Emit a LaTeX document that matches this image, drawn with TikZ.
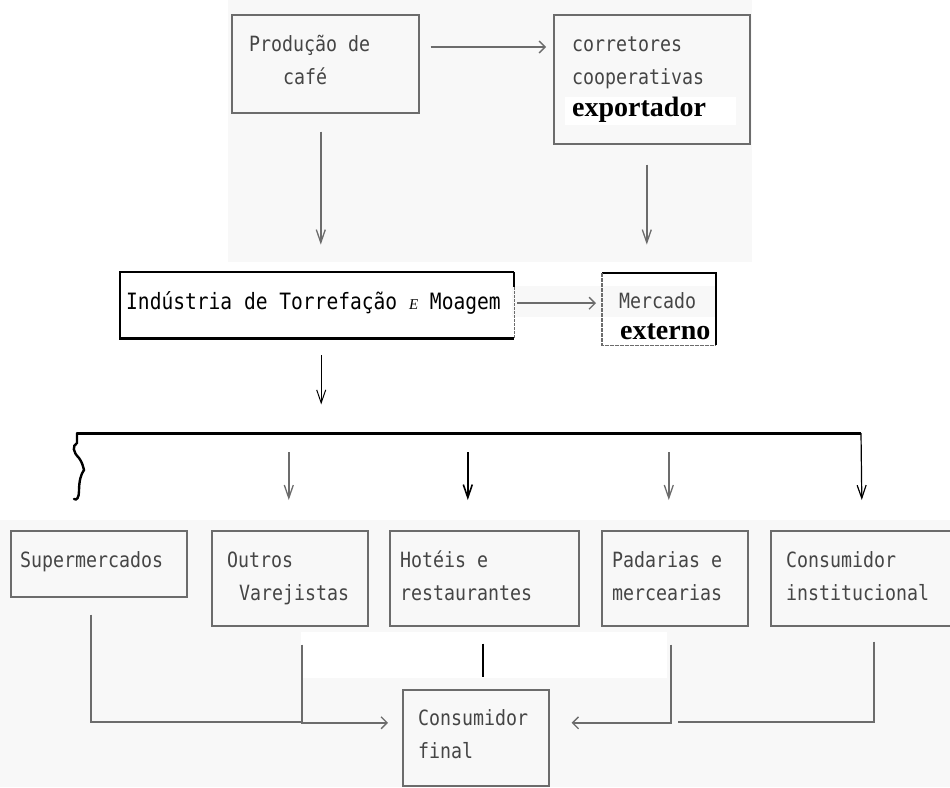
\documentclass[tikz,border=0pt]{standalone}
\usepackage{fontspec}
\setmainfont{Liberation Serif}
\newfontfamily\dotfont{DejaVu Sans Mono}[FakeStretch=0.87]
\usetikzlibrary{arrows.meta}
\definecolor{ln}{HTML}{6c6c6c}
\definecolor{tx}{HTML}{454545}
\definecolor{scan}{HTML}{f8f8f8}
\begin{document}
\begin{tikzpicture}[x=1pt,y=-1pt,
  box/.style={draw=ln, line width=1.6pt, inner sep=0pt, anchor=north west},
  frame/.style={inner sep=0pt, anchor=north west},
  dm/.style={font=\dotfont\fontsize{21}{24}\selectfont, text=tx, inner sep=0pt, anchor=base west},
  bs/.style={font=\bfseries\fontsize{28}{30}\selectfont, text=black, inner sep=0pt, anchor=base west},
  gl/.style={draw=ln, line width=1.5pt},
  bl/.style={draw=black, line width=2.2pt},
  dn/.style={gl, -{Straight Barb[length=13pt,width=9pt,line width=1.3pt]}},
  rt/.style={gl, -{Straight Barb[length=6pt,width=12pt,line width=1.3pt]}}
]
\useasboundingbox (0,0) rectangle (950,787);
% scanned background patches
\fill[scan] (228,0) rectangle (752,262);
\fill[scan] (0,520) rectangle (950,787);
\fill[scan] (512,286) rectangle (716,317);
\fill[white] (301,632) rectangle (667,678);
\fill[white] (565,97) rectangle (736,125);
\fill[white] (604,318) rectangle (715,347);

% top row
\node[box, minimum width=187pt, minimum height=98pt] (prod) at (231,14) {};
\node[dm] (prodA) at (249,51) {Produção de};
\node[dm] (prodB) at (283,84) {café};

\node[box, minimum width=196pt, minimum height=129pt] (corr) at (553,14) {};
\node[dm] (corrA) at (572,51) {corretores};
\node[dm] (corrB) at (572,84) {cooperativas};
\node[bs] (corrC) at (572,116) {exportador};

\draw[rt] ([xshift=11pt,yshift=-33pt]prod.north east) -- ([xshift=-7pt,yshift=-33pt]corr.north west);
\draw[dn] ([xshift=-4.5pt,yshift=-18pt]prod.south) -- ([xshift=-4.5pt,yshift=-131pt]prod.south);
\draw[dn] ([xshift=-5pt,yshift=-20pt]corr.south) -- ([xshift=-5pt,yshift=-100pt]corr.south);

% middle row
\node[frame, minimum width=394pt, minimum height=66pt] (ind) at (120,272) {};
\draw[bl] (ind.north east) -- (ind.north west) -- (ind.south west) -- (ind.south east);
\draw[black, line width=2pt] (ind.north east) -- ([yshift=-15pt]ind.north east);
\draw[ln, line width=1.2pt, dash pattern=on 3pt off 1pt] ([yshift=-15pt]ind.north east) -- (ind.south east);
\node[dm, text=black, font=\dotfont\fontsize{22.5}{24}\selectfont] (indt) at (126,309) {Indústria de Torrefação {\rmfamily\itshape\fontsize{15}{15}\selectfont E} Moagem};

\node[frame, minimum width=114pt, minimum height=72pt] (merc) at (602,273) {};
\draw[black, line width=2pt] (merc.north west) -- (merc.north east) -- (merc.south east);
\draw[ln, line width=1.3pt, dash pattern=on 4pt off 1pt] (merc.north west) -- (merc.south west) -- (merc.south east);
\node[dm] (mercA) at (619,308) {Mercado};
\node[bs] (mercB) at (620,339) {externo};

\draw[rt] ([xshift=3pt,yshift=2pt]ind.east) -- ([xshift=-6pt,yshift=6pt]merc.west);
\draw[black, line width=1pt, -{Straight Barb[length=13pt,width=9pt,line width=1pt]}] ([xshift=4pt,yshift=-17pt]ind.south) -- ([xshift=4pt,yshift=-66pt]ind.south);

% distribution bar
\coordinate (barL) at (77,433);
\coordinate (barR) at (861,433);
\draw[black, line width=3pt] (barL) -- (barR);

% bottom row
\node[box, minimum width=176pt, minimum height=66pt] (sup) at (10,530) {};
\node[box, minimum width=156pt, minimum height=95pt] (out) at (211,530) {};
\node[box, minimum width=189pt, minimum height=95pt] (hot) at (389,530) {};
\node[box, minimum width=146pt, minimum height=95pt] (pad) at (601,530) {};
\node[box, minimum width=182pt, minimum height=95pt] (ins) at (770,530) {};
\node[box, minimum width=146pt, minimum height=96pt] (fin) at (402,689) {};

\node[dm] (supA) at (20,567) {Supermercados};
\node[dm] (outA) at (227,567) {Outros};
\node[dm] (outB) at (239,600) {Varejistas};
\node[dm] (hotA) at (400,567) {Hotéis e};
\node[dm] (hotB) at (400,600) {restaurantes};
\node[dm] (padA) at (612,567) {Padarias e};
\node[dm] (padB) at (612,600) {mercearias};
\node[dm] (insA) at (786,567) {Consumidor};
\node[dm] (insB) at (786,600) {institucional};
\node[dm] (finA) at (418,725) {Consumidor};
\node[dm] (finB) at (418,758) {final};

% branches from bar
\begin{scope}[shift={(barL)}]
\draw[black, line width=2.4pt, line cap=round]
  (0,0) -- (0,10) .. controls (-5,13) and (-4,19) .. (2,25)
  .. controls (5,29) and (6,33) .. (7,37)
  .. controls (4,41) and (2,48) .. (2,58)
  .. controls (2,64) and (0,68) .. (-3,66);
\end{scope}
\draw[dn] ([xshift=-1pt,yshift=78pt]out.north) -- ([xshift=-1pt,yshift=30pt]out.north);
\draw[black, line width=1.6pt, -{Straight Barb[length=13pt,width=9pt,line width=1.6pt]}] ([xshift=-16.5pt,yshift=78pt]hot.north) -- ([xshift=-16.5pt,yshift=30pt]hot.north);
\draw[dn] ([xshift=-6pt,yshift=78pt]pad.north) -- ([xshift=-6pt,yshift=30pt]pad.north);
\draw[black, line width=1.2pt, -{Straight Barb[length=13pt,width=9pt,line width=1.2pt]}] (barR) -- ([yshift=30pt]ins.north);

% to final consumer
\coordinate (jL) at (301,722);
\coordinate (jR) at (678,722);
\draw[gl] ([xshift=-8pt,yshift=-17pt]sup.south) |- (jL);
\draw[rt] ([xshift=12pt,yshift=-18pt]out.south) |- ([xshift=-14pt,yshift=15pt]fin.west);
\draw[black, line width=2pt] ([xshift=-1.5pt,yshift=-17pt]hot.south) -- ([xshift=-1.5pt,yshift=-50pt]hot.south);
\draw[rt] ([xshift=-4pt,yshift=-18pt]pad.south) |- ([xshift=22pt,yshift=15pt]fin.east);
\draw[gl] ([xshift=12pt,yshift=-15pt]ins.south) |- (jR);
\end{tikzpicture}
\end{document}
